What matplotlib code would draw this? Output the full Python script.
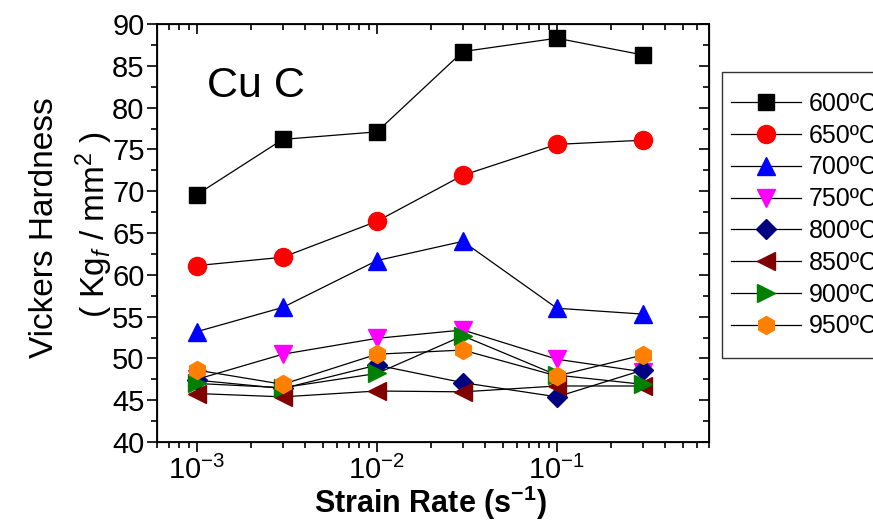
import matplotlib
matplotlib.use("Agg")
import matplotlib.pyplot as plt
from matplotlib.patches import Rectangle
from matplotlib.ticker import LogLocator, MultipleLocator, NullFormatter

plt.rcParams['font.family'] = ['Liberation Sans', 'DejaVu Sans']
plt.rcParams['mathtext.fontset'] = 'custom'
plt.rcParams['mathtext.rm'] = 'Liberation Sans'
plt.rcParams['mathtext.it'] = 'Liberation Sans:italic'
plt.rcParams['mathtext.bf'] = 'Liberation Sans:bold'

strain_rate = [1e-3, 3e-3, 1e-2, 3e-2, 1e-1, 3e-1]
temps = ['600ºC', '650ºC', '700ºC', '750ºC', '800ºC', '850ºC', '900ºC', '950ºC']
hv_600 = [69.6, 76.2, 77.1, 86.7, 88.3, 86.3]
hv_650 = [61.1, 62.1, 66.4, 71.9, 75.6, 76.1]
hv_700 = [53.2, 56.1, 61.7, 64.0, 56.0, 55.3]
hv_750 = [47.5, 50.5, 52.4, 53.4, 49.9, 48.4]
hv_800 = [47.4, 46.4, 49.2, 47.1, 45.4, 48.6]
hv_850 = [45.8, 45.4, 46.1, 46.0, 46.7, 46.7]
hv_900 = [47.0, 46.5, 48.2, 52.7, 48.0, 46.9]
hv_950 = [48.6, 46.9, 50.5, 51.0, 47.9, 50.4]
series = [hv_600, hv_650, hv_700, hv_750, hv_800, hv_850, hv_900, hv_950]

markers = ['s', 'o', '^', 'v', 'D', '<', '>', 'h']
colors = ['#000000', '#ff0000', '#0000ff', '#ff00ff', '#000080', '#800000', '#008000', '#ff8000']
msizes = [11, 13, 13, 13, 10, 13, 13, 13]

fig = plt.figure(figsize=(8.73, 5.25), dpi=100)
ax = fig.add_axes([157/873, 1-442/525, (709-157)/873, (442-24)/525])

for vals, lab, m, c, ms in zip(series, temps, markers, colors, msizes):
    ax.plot(strain_rate, vals, color='black', lw=0.9, marker=m, ms=ms,
            mfc=c, mec=c, label=lab)

ax.set_xscale('log')
ax.set_xlim(6e-4, 0.7)
ax.set_ylim(40, 90)
ax.yaxis.set_major_locator(MultipleLocator(5))
ax.yaxis.set_minor_locator(MultipleLocator(2.5))
ax.xaxis.set_major_locator(LogLocator(base=10, numticks=10))
ax.xaxis.set_minor_locator(LogLocator(base=10, subs=range(2, 10), numticks=10))
ax.xaxis.set_minor_formatter(NullFormatter())
for s in ax.spines.values():
    s.set_linewidth(1.3)
ax.tick_params(which='both', direction='out', width=1.2, labelsize=21, pad=2)
ax.tick_params(which='major', length=7)
ax.tick_params(which='minor', length=4)
ax.tick_params(axis='x', pad=3)

# mirrored ticks (pointing inward) on top and right
axt = ax.twiny()
axt.set_xscale('log')
axt.set_xlim(ax.get_xlim())
axt.xaxis.set_major_locator(LogLocator(base=10, numticks=10))
axt.xaxis.set_minor_locator(LogLocator(base=10, subs=range(2, 10), numticks=10))
axt.tick_params(which='both', direction='in', width=1.2, labeltop=False)
axt.tick_params(which='major', length=7)
axt.tick_params(which='minor', length=4)
axr = ax.twinx()
axr.set_ylim(ax.get_ylim())
axr.yaxis.set_major_locator(MultipleLocator(5))
axr.yaxis.set_minor_locator(MultipleLocator(2.5))
axr.tick_params(which='both', direction='in', width=1.2, labelright=False)
axr.tick_params(which='major', length=7)
axr.tick_params(which='minor', length=4)

ax.text(0.09, 0.825, 'Cu C', transform=ax.transAxes, fontsize=31, va='baseline')

fig.text(45/873, 1-228/525, 'Vickers Hardness', rotation=90, fontsize=24,
         ha='center', va='center')
fig.text(94/873, 1-225/525, r'( Kg$_{f}$ / mm$^{2}$ )', rotation=90, fontsize=24,
         ha='center', va='center')
fig.text(430/873, 0.022, r'Strain Rate (s$^{\mathbf{-1}}$)', fontsize=22,
         fontweight='bold', ha='center', va='baseline')

# legend box (extends past the right edge of the figure, as in the reference)
fig.patches.append(Rectangle((722/873, 1-358/525), 0.5, (358-72)/525,
                             transform=fig.transFigure, fill=True, facecolor='white',
                             edgecolor='#333333', linewidth=1.0, zorder=0))
handles, labels = ax.get_legend_handles_labels()
leg = fig.legend(handles, labels, loc='upper left', bbox_to_anchor=(731/873, 1-92/525),
                 fontsize=18, frameon=False,
                 handlelength=2.8, handletextpad=0.3, labelspacing=0.31,
                 borderpad=0.0, borderaxespad=0)

fig.savefig('out.png', dpi=100)
